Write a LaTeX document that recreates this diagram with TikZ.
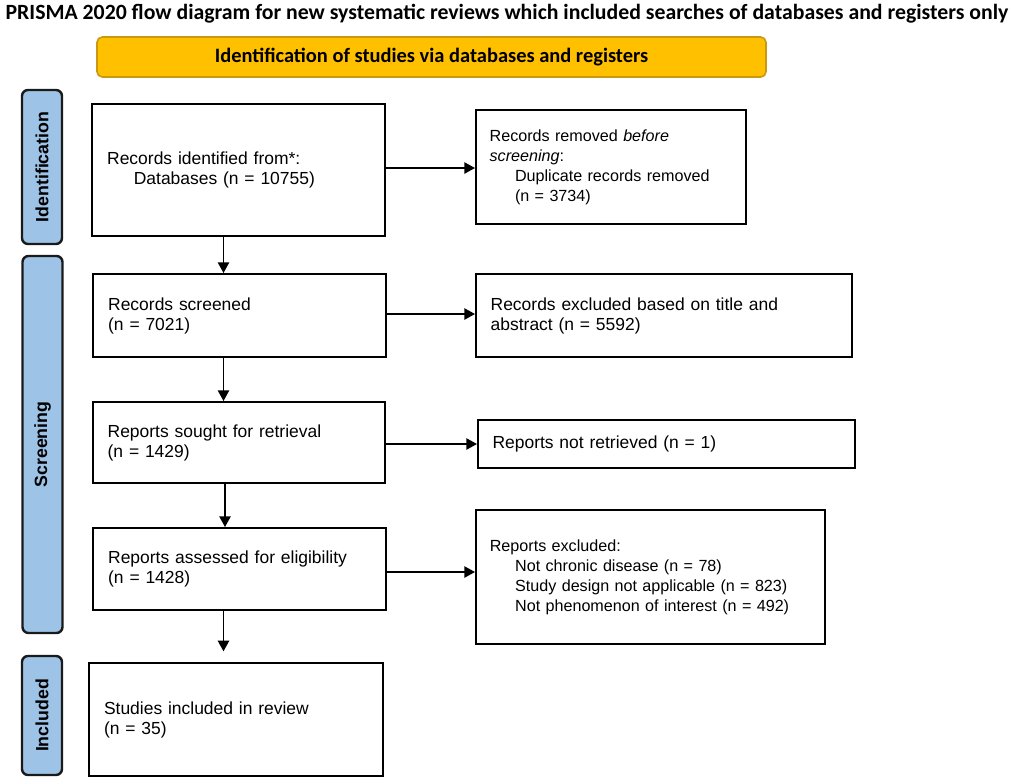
\documentclass[tikz,border=0pt]{standalone}
\usepackage{fontspec}
\setmainfont{Liberation Sans}
\newfontfamily\calib{Carlito}
\usetikzlibrary{arrows.meta}
\definecolor{bannerfill}{HTML}{FFC000}
\definecolor{bannerdraw}{HTML}{C99A10}
\definecolor{labfill}{HTML}{9DC3E6}
\definecolor{labdraw}{HTML}{1A1A1A}
\tikzset{
  boxnode/.style={draw=black, line width=1.5pt, fill=white, align=left, anchor=center,
    inner xsep=11pt, inner ysep=4pt, font=\fontsize{13.1}{15}\selectfont},
  smalltext/.style={font=\fontsize{12.1}{15}\selectfont},
  labnode/.style={draw=labdraw, line width=1.8pt, fill=labfill, rounded corners=4.5pt,
    rotate=90, minimum height=30pt, inner sep=0pt, font=\fontsize{13.3}{15}\selectfont\bfseries},
  flowarrow/.style={line width=1.1pt, -{Triangle[length=8pt,width=8.5pt]}}
}
\begin{document}
\begin{tikzpicture}[x=0.75pt,y=-0.75pt]
\useasboundingbox (0,0) rectangle (1014,783);
% title
\node (title) at (507,14) {\resizebox{752pt}{!}{\calib\bfseries\fontsize{15}{18}\selectfont PRISMA 2020 flow diagram for new systematic reviews which included searches of databases and registers only}};
% banner
\node[draw=bannerdraw, line width=1.2pt, fill=bannerfill, rounded corners=4pt,
  minimum width=501.75pt, minimum height=30pt] (banner) at (431.5,57)
  {\resizebox{325pt}{!}{\calib\bfseries\fontsize{14}{16}\selectfont Identification of studies via databases and registers}};
% side labels
\node[labnode, minimum width=115.5pt] (lid) at (42,167) {Identification};
\node[labnode, minimum width=282.75pt] (lsc) at (42.5,444.5) {Screening};
\node[labnode, minimum width=89.25pt] (lin) at (42,715.5) {Included};
% left boxes
\node[boxnode, minimum width=219.75pt, minimum height=99pt, text width=197pt] (b1) at (238.5,170)
  {Records identified from*:\\\hspace*{20pt}Databases (n = 10755)};
\node[boxnode, minimum width=219.75pt, minimum height=62.25pt, text width=197pt] (b2) at (239.5,315.5)
  {Records screened\\(n = 7021)};
\node[boxnode, minimum width=219pt, minimum height=60.75pt, text width=197pt] (b3) at (239,442.5)
  {Reports sought for retrieval\\(n = 1429)};
\node[boxnode, minimum width=219.75pt, minimum height=61.5pt, text width=197pt] (b4) at (239.5,569)
  {Reports assessed for eligibility\\(n = 1428)};
\node[boxnode, minimum width=220.5pt, minimum height=84.75pt, text width=198pt] (b5) at (236,719.5)
  {Studies included in review\\(n = 35)};
% right boxes
\node[boxnode, smalltext, minimum width=202.5pt, minimum height=85.5pt, text width=182pt, inner xsep=10pt] (r1) at (611,167)
  {Records removed \textit{before}\\\textit{screening}:\\\hspace*{19pt}Duplicate records removed\\\hspace*{19pt}(n = 3734)};
\node[boxnode, minimum width=282pt, minimum height=62.25pt, text width=260pt, inner xsep=10pt] (r2) at (664,315.5)
  {Records excluded based on title and\\abstract (n = 5592)};
\node[boxnode, minimum width=282.75pt, minimum height=36pt, text width=261pt, inner xsep=10pt] (r3) at (666.5,444)
  {Reports not retrieved (n = 1)};
\node[boxnode, smalltext, minimum width=261.75pt, minimum height=100.5pt, text width=241pt, inner xsep=10pt] (r4) at (650.5,577)
  {Reports excluded:\\\hspace*{19pt}Not chronic disease (n = 78)\\\hspace*{19pt}Study design not applicable (n = 823)\\\hspace*{19pt}Not phenomenon of interest (n = 492)};
% arrow x positions
\coordinate (ax1) at (223.5,0);
\coordinate (ax2) at (225,0);
% horizontal arrows
\draw[flowarrow] (b1.east |- 0,168) -- (r1.west |- 0,168);
\draw[flowarrow] (b2.east |- 0,314) -- (r2.west |- 0,314);
\draw[flowarrow] (b3.east |- 0,444) -- (r3.west |- 0,444);
\draw[flowarrow] (b4.east |- 0,572) -- (r4.west |- 0,572);
% vertical arrows
\draw[flowarrow] (b1.south -| ax1) -- (b2.north -| ax1);
\draw[flowarrow] (b2.south -| ax1) -- (b3.north -| ax1);
\draw[flowarrow] (b3.south -| ax2) -- (b4.north -| ax2);
\draw[flowarrow, shorten >=8pt] (b4.south -| ax1) -- (b5.north -| ax1);
\end{tikzpicture}
\end{document}
